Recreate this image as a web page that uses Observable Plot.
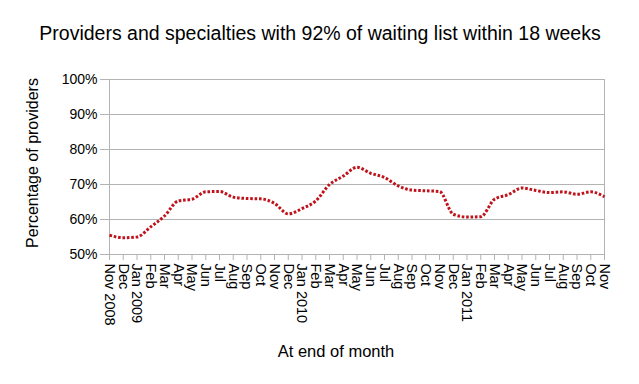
<!DOCTYPE html>
<html>
<head>
<meta charset="utf-8">
<script src="https://cdn.jsdelivr.net/npm/d3@7"></script>
<script src="https://cdn.jsdelivr.net/npm/@observablehq/plot@0.6"></script>
<style>
  html, body { margin: 0; padding: 0; background: #fff; }
  #chart svg { display: block; }
</style>
</head>
<body>
<div id="chart"></div>
<script>
const title = "Providers and specialties with 92% of waiting list within 18 weeks";
const yLabel = "Percentage of providers";
const xLabel = "At end of month";

const monthLabels = [
  "Nov 2008", "Dec", "Jan 2009", "Feb", "Mar", "Apr", "May", "Jun", "Jul", "Aug", "Sep", "Oct",
  "Nov", "Dec", "Jan 2010", "Feb", "Mar", "Apr", "May", "Jun", "Jul", "Aug", "Sep", "Oct",
  "Nov", "Dec", "Jan 2011", "Feb", "Mar", "Apr", "May", "Jun", "Jul", "Aug", "Sep", "Oct", "Nov"
];

const percentValues = [
  55.5, 54.8, 55.0, 57.9, 61.0, 65.3, 65.8, 67.9, 68.0, 66.4, 66.0, 65.9,
  64.6, 61.6, 63.1, 65.3, 70.0, 72.4, 74.9, 73.2, 72.0, 69.6, 68.4, 68.2,
  68.0, 61.5, 60.7, 60.8, 65.8, 67.1, 69.0, 68.3, 67.7, 67.9, 67.2, 67.9, 66.5
];

const yTicks = [50, 60, 70, 80, 90, 100];

const data = monthLabels.map((label, i) => ({i, label, value: percentValues[i]}));
const idx = d3.range(monthLabels.length);

const W = 639, H = 384;
const gridColor = "#b3b3b3";

const chart = Plot.plot({
  width: W,
  height: H,
  marginLeft: 109,
  marginRight: 35,
  marginTop: 79,
  marginBottom: 130,
  style: {fontFamily: "'Liberation Sans', Arial, Helvetica, sans-serif", color: "#000", background: "#fff"},
  x: {type: "linear", domain: [0, monthLabels.length - 1]},
  y: {type: "linear", domain: [50, 100]},
  marks: [
    Plot.gridY(yTicks, {stroke: gridColor, strokeOpacity: 1}),
    Plot.ruleX([0, monthLabels.length - 1], {stroke: gridColor}),
    Plot.ruleY([50], {stroke: gridColor}),
    Plot.axisY(yTicks, {
      tickFormat: d => d + "%",
      tickSize: 9, tickPadding: 3, fontSize: 14,
      stroke: gridColor, label: null
    }),
    Plot.axisX(idx, {
      tickFormat: i => monthLabels[i],
      tickRotate: 90, tickSize: 6, tickPadding: 3, fontSize: 14.5,
      stroke: gridColor, label: null
    }),
    Plot.line(data, {
      x: "i", y: "value",
      stroke: "#c0121b", strokeWidth: 3,
      strokeDasharray: "2.6,1.8",
      strokeLinecap: "butt",
      strokeLinejoin: "miter",
      curve: "monotone-x"
    })
  ]
});

const svg = d3.select(chart);
svg.append("text")
  .attr("x", 320).attr("y", 40)
  .attr("text-anchor", "middle")
  .attr("font-size", 19.5)
  .attr("fill", "#000")
  .text(title);
svg.append("text")
  .attr("transform", "translate(38,163) rotate(-90)")
  .attr("text-anchor", "middle")
  .attr("font-size", 16)
  .attr("fill", "#000")
  .text(yLabel);
svg.append("text")
  .attr("x", 336).attr("y", 357)
  .attr("text-anchor", "middle")
  .attr("font-size", 16.5)
  .attr("fill", "#000")
  .text(xLabel);

document.getElementById("chart").appendChild(chart);
</script>
</body>
</html>
